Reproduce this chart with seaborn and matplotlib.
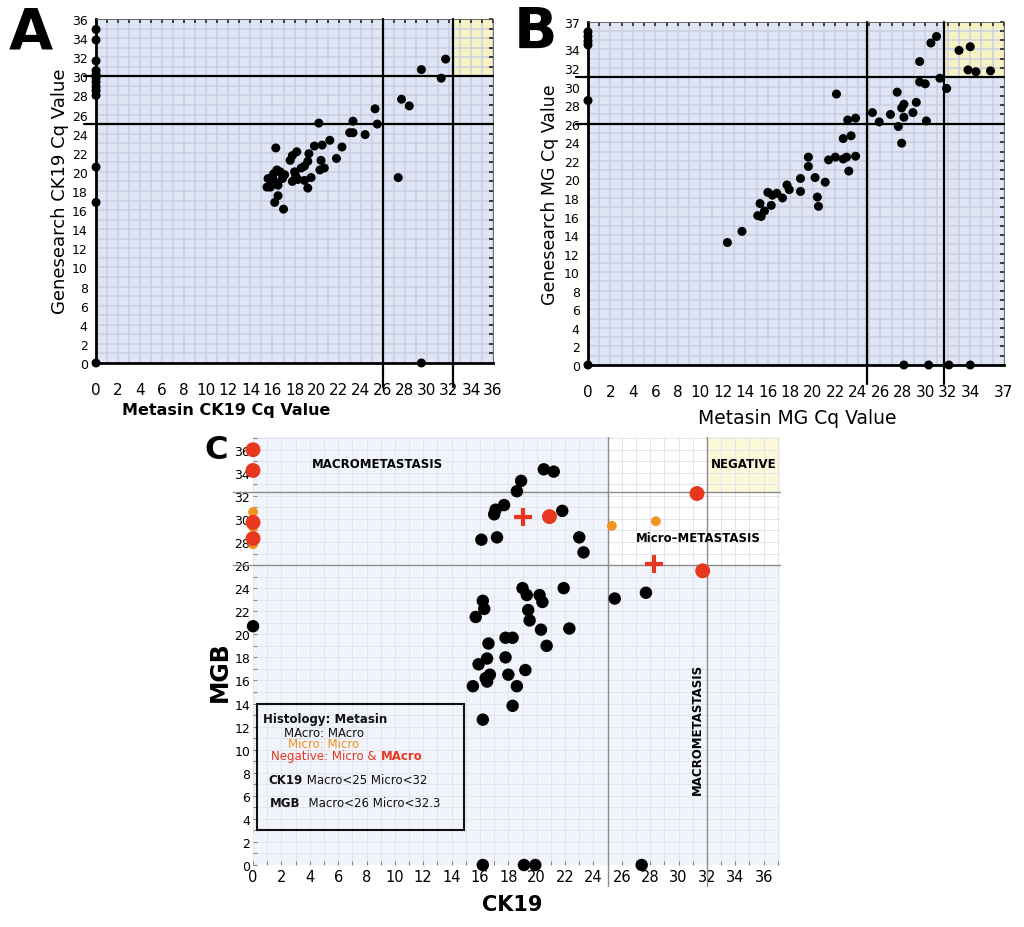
import matplotlib
matplotlib.use("Agg")
import matplotlib.pyplot as plt
import seaborn as sns
import pandas as pd
from matplotlib.patches import Rectangle
from matplotlib.ticker import MultipleLocator, FixedLocator

# ---------------- Panel A data (CK19) ----------------
a_metasin = [0, 0, 0, 0, 0, 0, 0, 0, 0, 0, 0, 0, 0,
             20.2, 23.3, 23.0, 23.3, 24.4, 25.3, 25.5, 27.7, 28.4, 27.4, 29.5, 31.3, 31.7, 29.5,
             21.2, 20.5, 19.8, 22.3, 21.8, 20.4, 20.3, 20.7, 16.3, 18.2, 17.8, 17.6, 19.3, 19.2,
             18.9, 18.6, 18.0, 18.1, 18.3, 17.8, 19.5, 18.9, 19.2, 17.1, 16.9, 16.4, 16.1, 16.7,
             15.6, 15.5, 15.8, 16.1, 16.5, 16.5, 16.2, 17.0]
a_genesearch = [34.9, 33.8, 31.6, 30.6, 30.2, 29.8, 29.4, 28.9, 28.5, 28.0, 20.5, 16.8, 0,
                25.1, 25.3, 24.1, 24.1, 23.9, 26.6, 25.0, 27.6, 26.9, 19.4, 30.7, 29.8, 31.8, 0,
                23.3, 22.8, 22.7, 22.6, 21.4, 21.2, 20.2, 20.4, 22.5, 22.1, 21.7, 21.2, 21.9, 21.1,
                20.6, 20.4, 20.0, 19.6, 19.2, 19.0, 19.4, 19.1, 18.3, 19.7, 19.3, 20.2, 19.8, 20.0,
                19.3, 18.4, 18.4, 19.1, 18.6, 17.5, 16.8, 16.1]

# ---------------- Panel B data (MG) ----------------
b_metasin = [0, 0, 0, 0, 0, 0,
             12.4, 13.7, 15.1, 15.4, 15.3, 15.7, 16.0, 16.4, 16.3, 16.8, 17.3, 17.7, 17.9, 18.9,
             18.9, 19.6, 19.6, 20.2, 20.4, 20.5, 21.1, 21.4, 22.0, 22.1, 22.7, 23.0, 22.7, 23.4,
             23.2, 23.1, 23.8, 23.8, 25.3, 25.9, 26.9, 27.5, 27.6, 27.9, 28.1, 28.1, 27.9, 28.9,
             29.2, 29.5, 29.5, 30.0, 30.1, 30.5, 31.0, 31.3, 31.9, 33.0, 34.0, 33.8, 34.5, 35.8,
             28.1, 30.3, 32.1, 34.0]
b_genesearch = [35.9, 35.4, 34.9, 34.5, 28.5, 0,
                13.2, 14.4, 16.1, 16.0, 17.4, 16.6, 18.6, 18.3, 17.2, 18.5, 18.0, 19.4, 18.9, 18.7,
                20.1, 22.4, 21.4, 20.2, 18.1, 17.1, 19.7, 22.1, 22.4, 29.2, 22.2, 22.4, 24.4, 24.7,
                20.9, 26.4, 26.6, 22.5, 27.2, 26.2, 27.0, 29.4, 25.7, 27.7, 28.1, 26.7, 23.9, 27.2,
                28.3, 32.7, 30.5, 30.3, 26.3, 34.7, 35.4, 30.9, 29.8, 33.9, 34.3, 31.8, 31.6, 31.7,
                0, 0, 0, 0]

# ---------------- Panel C data ----------------
c_black_ck19 = [0, 20.5, 21.2, 18.9, 18.6, 17.7, 17.1, 17.0, 21.8, 16.1, 17.2, 23.0, 23.3,
                19.0, 19.3, 20.2, 20.4, 21.9, 16.2, 16.3, 15.7, 19.4, 19.5, 20.3, 22.3, 16.6,
                17.8, 18.3, 20.7, 16.5, 17.8, 15.9, 19.2, 16.7, 16.4, 18.0, 16.5, 15.5, 18.6,
                18.3, 16.2, 16.2, 19.1, 19.9, 27.4, 25.5, 27.7]
c_black_mgb = [20.7, 34.3, 34.1, 33.3, 32.4, 31.2, 30.8, 30.4, 30.7, 28.2, 28.4, 28.4, 27.1,
               24.0, 23.4, 23.4, 22.8, 24.0, 22.9, 22.2, 21.5, 22.1, 21.2, 20.4, 20.5, 19.2,
               19.7, 19.7, 19.0, 17.9, 18.0, 17.4, 16.9, 16.5, 16.2, 16.5, 15.9, 15.5, 15.5,
               13.8, 12.6, 0, 0, 0, 0, 23.1, 23.6]
c_red_ck19 = [0, 0, 0, 0, 20.9, 31.3, 31.7]
c_red_mgb = [36.0, 34.2, 29.7, 28.3, 30.2, 32.2, 25.5]
c_orange_ck19 = [0, 0, 0, 25.3, 28.4]
c_orange_mgb = [30.6, 29.3, 27.8, 29.4, 29.8]
c_plus_ck19 = [19.05, 28.3]
c_plus_mgb = [30.2, 26.1]

RED = "#e8371f"
ORANGE = "#f39320"

sns.set_style("white")
plt.rcParams["font.family"] = ["DejaVu Sans"]
for k in ["text.color", "axes.labelcolor", "xtick.color", "ytick.color"]:
    plt.rcParams[k] = "black"

fig = plt.figure(figsize=(10.24, 9.28), dpi=100)

NARROW = ["Liberation Sans Narrow", "DejaVu Sans"]


def style_ab(ax, xmax, ymax, xticks, yticks):
    ax.set_facecolor("#dfe5f4")
    ax.set_xlim(0, xmax)
    ax.set_ylim(0, ymax)
    ax.xaxis.set_major_locator(FixedLocator(xticks))
    ax.yaxis.set_major_locator(FixedLocator(yticks))
    ax.xaxis.set_minor_locator(MultipleLocator(1))
    ax.yaxis.set_minor_locator(MultipleLocator(1))
    ax.grid(which="both", color="#c9d0e3", linewidth=1.1, zorder=0)
    ax.set_axisbelow(True)
    ax.tick_params(which="both", direction="in", top=True, right=True,
                   length=3, width=1.2, color="#222222")
    ax.tick_params(axis="x", which="major", pad=14, labelsize=11)
    ax.tick_params(axis="y", which="major", pad=6, labelsize=9)
    for lab in ax.get_xticklabels() + ax.get_yticklabels():
        lab.set_family(NARROW)
    for s in ["left", "bottom"]:
        ax.spines[s].set_color("black")
        ax.spines[s].set_linewidth(2)
    for s in ["top", "right"]:
        ax.spines[s].set_color("#555555")
        ax.spines[s].set_linewidth(0.6)
    ax.set_xlabel("")
    ax.set_ylabel("")


# ---------------- Panel A ----------------
axA = fig.add_axes([0.0938, 0.6078, 0.3877, 0.3707])
axA.add_patch(Rectangle((32.36, 30), 36 - 32.36, 6, facecolor="#f8f3c4", edgecolor="none", zorder=0.5))
dfA = pd.DataFrame({"x": a_metasin, "y": a_genesearch})
sns.scatterplot(data=dfA, x="x", y="y", ax=axA, color="black", s=42, edgecolor="none",
                clip_on=False, zorder=5, legend=False)
for xv in [26, 32.36]:
    axA.plot([xv, xv], [-2.5, 36], color="black", lw=1.6, clip_on=False, zorder=3)
for yv in [30, 25]:
    axA.plot([-1.1, 36], [yv, yv], color="black", lw=1.6, clip_on=False, zorder=3)
style_ab(axA, 36, 36, list(range(0, 37, 2)), list(range(0, 37, 2)))

fig.text(0.2207, 0.558, "Metasin CK19 Cq Value", ha="center", va="center", fontsize=11.5,
         family=NARROW, weight="bold")
fig.text(0.0586, 0.794, "Genesearch CK19 Cq Value", ha="center", va="center", fontsize=13,
         rotation=90)
fig.text(0.0303, 0.963, "A", ha="center", va="center", fontsize=41, weight="bold")

# ---------------- Panel B ----------------
axB = fig.add_axes([0.5742, 0.6056, 0.40625, 0.370])
axB.add_patch(Rectangle((31.7, 31.05), 37 - 31.7, 37 - 31.05, facecolor="#f8f3c4", edgecolor="none", zorder=0.5))
dfB = pd.DataFrame({"x": b_metasin, "y": b_genesearch})
sns.scatterplot(data=dfB, x="x", y="y", ax=axB, color="black", s=42, edgecolor="none",
                clip_on=False, zorder=5, legend=False)
for xv in [24.8, 31.7]:
    axB.plot([xv, xv], [-2.0, 37], color="black", lw=1.6, clip_on=False, zorder=3)
for yv in [31.05, 26.0]:
    axB.plot([-1.1, 37], [yv, yv], color="black", lw=1.6, clip_on=False, zorder=3)
style_ab(axB, 37, 37, list(range(0, 35, 2)) + [37], list(range(0, 35, 2)) + [37])

fig.text(0.779, 0.549, "Metasin MG Cq Value", ha="center", va="center", fontsize=13.5)
fig.text(0.537, 0.79, "Genesearch MG Cq Value", ha="center", va="center", fontsize=12.5,
         rotation=90)
fig.text(0.5225, 0.9644, "B", ha="center", va="center", fontsize=41, weight="bold")

# ---------------- Panel C ----------------
axC = fig.add_axes([0.2471, 0.0668, 0.5146, 0.4612])
XMAX, YMAX = 37.15, 37.1
axC.set_xlim(0, XMAX)
axC.set_ylim(0, YMAX)
axC.set_facecolor("#f2f4fb")
axC.add_patch(Rectangle((25, 26), XMAX - 25, YMAX - 26, facecolor="white", edgecolor="none", zorder=0.2))
axC.add_patch(Rectangle((32, 32.3), XMAX - 32, YMAX - 32.3, facecolor="#fbf9da", edgecolor="none", zorder=0.3))
axC.xaxis.set_major_locator(MultipleLocator(2))
axC.yaxis.set_major_locator(MultipleLocator(2))
axC.xaxis.set_minor_locator(MultipleLocator(1))
axC.yaxis.set_minor_locator(MultipleLocator(1))
axC.grid(which="both", color="#e2e5ee", linewidth=0.7, zorder=0.4)
axC.set_axisbelow(True)
axC.tick_params(which="both", direction="in", length=3, width=0.8, color="#888888",
                left=True, bottom=True)
axC.tick_params(axis="x", which="major", labelsize=10.5, pad=3)
axC.tick_params(axis="y", which="major", labelsize=9, pad=2)
for s in axC.spines.values():
    s.set_visible(False)

for xv in [25, 32]:
    axC.plot([xv, xv], [-1.8, YMAX], color="#8c8c8c", lw=1.0, clip_on=False, zorder=3)
for yv in [26, 32.3]:
    axC.plot([-1.4, XMAX], [yv, yv], color="#8c8c8c", lw=1.0, clip_on=False, zorder=3)

dfCk = pd.DataFrame({"x": c_black_ck19, "y": c_black_mgb})
sns.scatterplot(data=dfCk, x="x", y="y", ax=axC, color="black", s=80, edgecolor="none",
                clip_on=False, zorder=5, legend=False)
dfCo = pd.DataFrame({"x": c_orange_ck19, "y": c_orange_mgb})
sns.scatterplot(data=dfCo, x="x", y="y", ax=axC, color=ORANGE, s=50, edgecolor="none",
                clip_on=False, zorder=5, legend=False)
dfCr = pd.DataFrame({"x": c_red_ck19, "y": c_red_mgb})
sns.scatterplot(data=dfCr, x="x", y="y", ax=axC, color=RED, s=115, edgecolor="none",
                clip_on=False, zorder=6, legend=False)
dfCp = pd.DataFrame({"x": c_plus_ck19, "y": c_plus_mgb})
sns.scatterplot(data=dfCp, x="x", y="y", ax=axC, color=RED, s=180, marker="+",
                linewidth=3, clip_on=False, zorder=6, legend=False)

axC.set_xlabel("")
axC.set_ylabel("")

axC.text(8.8, 34.8, "MACROMETASTASIS", ha="center", va="center", fontsize=8.5, weight="bold", zorder=7)
axC.text(34.6, 34.8, "NEGATIVE", ha="center", va="center", fontsize=8.5, weight="bold", zorder=7)
axC.text(31.4, 28.4, "Micro–METASTASIS", ha="center", va="center", fontsize=8.5, weight="bold", zorder=7)
axC.text(31.3, 11.8, "MACROMETASTASIS", ha="center", va="center", fontsize=8.5, weight="bold",
         rotation=90, zorder=7)

# legend box
axC.add_patch(Rectangle((0.3, 3.0), 14.6, 11.0, facecolor="none", edgecolor="#111111", lw=1.5, zorder=7))

fig.canvas.draw()
renderer = fig.canvas.get_renderer()


def pieces(x, y, parts):
    """Draw consecutive text pieces on one line; parts = [(text, color, weight)]."""
    cur = x
    for txt, col, wt in parts:
        t = axC.text(cur, y, txt, ha="left", va="center", fontsize=8.5, color=col,
                     weight=wt, zorder=8)
        bb = t.get_window_extent(renderer=renderer)
        inv = axC.transData.inverted()
        cur = inv.transform((bb.x1, bb.y0))[0]


pieces(0.7, 12.66, [("Histology: Metasin", "#111111", "bold")])
pieces(2.2, 11.5, [("MAcro: MAcro", "#111111", "normal")])
pieces(2.5, 10.55, [("Micro: Micro", ORANGE, "normal")])
pieces(1.3, 9.45, [("Negative: Micro & ", RED, "normal"), ("MAcro", RED, "bold")])
pieces(1.1, 7.4, [("CK19", "#111111", "bold"), (" Macro<25 Micro<32", "#111111", "normal")])
pieces(1.2, 5.4, [("MGB", "#111111", "bold"), ("  Macro<26 Micro<32.3", "#111111", "normal")])

fig.text(0.5, 0.0248, "CK19", ha="center", va="center", fontsize=15, weight="bold")
fig.text(0.2148, 0.2759, "MGB", ha="center", va="center", fontsize=17, weight="bold", rotation=90)
fig.text(0.211, 0.5145, "C", ha="center", va="center", fontsize=23, weight="bold")

fig.savefig("out.png", dpi=100)
